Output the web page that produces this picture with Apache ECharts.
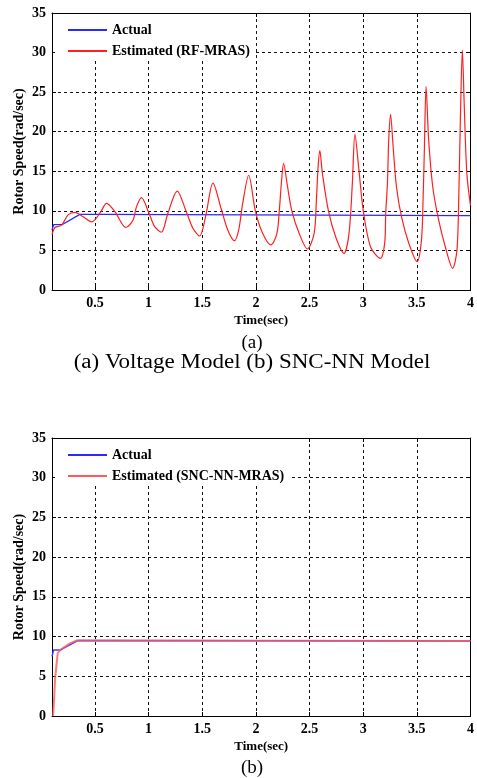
<!DOCTYPE html>
<html>
<head>
<meta charset="utf-8">
<script src="https://cdn.jsdelivr.net/npm/echarts@6/dist/echarts.min.js"></script>
<style>
  html, body { margin: 0; padding: 0; background: #fff; }
  #chart { width: 477px; height: 778px; }
</style>
</head>
<body>
<div id="chart"></div>
<script>
// tick positions
const timeTicks = [0.5, 1, 1.5, 2, 2.5, 3, 3.5, 4];

// (a) voltage model
const actualTimeA = [0.1, 0.115, 0.2, 0.36, 0.55, 0.56, 4.0];
const actualSpeedA = [7.6, 8.25, 8.3, 9.55, 9.55, 9.4, 9.4];
const rfTime = [0.1, 0.128, 0.19, 0.25, 0.314, 0.39, 0.47, 0.546, 0.609, 0.686, 0.788, 0.856, 0.887, 0.934,
  1.004, 1.057, 1.119, 1.18, 1.267, 1.351, 1.413, 1.475, 1.531, 1.6, 1.676, 1.738, 1.8, 1.84, 1.877, 1.933,
  1.995, 2.063, 2.14, 2.196, 2.218, 2.24, 2.258, 2.295, 2.335, 2.403, 2.48, 2.543, 2.564, 2.58, 2.596, 2.62,
  2.676, 2.744, 2.821, 2.868, 2.899, 2.923, 2.96, 3.0, 3.068, 3.16, 3.2, 3.21, 3.226, 3.238, 3.255, 3.279,
  3.31, 3.357, 3.425, 3.502, 3.543, 3.558, 3.57, 3.586, 3.61, 3.648, 3.703, 3.765, 3.833, 3.874, 3.892,
  3.905, 3.924, 3.942, 3.966, 4.0];
const rfSpeed = [7.0, 7.9, 8.2, 9.5, 9.8, 9.26, 8.6, 9.7, 10.95, 9.9, 7.9, 8.85, 10.5, 11.66,
  9.7, 8.0, 7.3, 9.7, 12.5, 9.9, 7.8, 6.82, 9.26, 13.5, 10.3, 7.58, 6.23, 7.6, 10.95, 14.5,
  10.0, 7.16, 5.69, 7.16, 10.0, 13.9, 16.0, 13.05, 10.0, 7.16, 5.18, 7.16, 11.4, 15.6, 17.6, 14.7,
  10.0, 6.7, 4.63, 7.16, 13.5, 19.7, 15.2, 10.1, 5.47, 4.0, 5.9, 9.7, 13.5, 19.0, 22.2, 18.1,
  13.05, 9.26, 5.9, 3.58, 6.3, 11.4, 17.7, 25.7, 19.0, 13.05, 8.85, 5.47, 2.74, 5.05, 12.6,
  21.1, 30.3, 23.2, 14.7, 10.7];

// (b) SNC-NN model
const actualTimeB = [0.1, 0.115, 0.175, 0.34, 4.0];
const actualSpeedB = [7.5, 8.3, 8.3, 9.5, 9.45];
const sncTime = [0.11, 0.119, 0.128, 0.137, 0.153, 0.174, 0.22, 0.267, 0.33, 0.45, 4.0];
const sncSpeed = [0, 2.0, 4.5, 5.8, 7.9, 8.3, 8.7, 9.15, 9.5, 9.5, 9.45];

const zip = (xs, ys) => xs.map((x, i) => [x, ys[i]]);

const serif = '"Liberation Serif", "DejaVu Serif", serif';
const font = { fontFamily: serif, fontWeight: 'bold', fontSize: 14, color: '#000' };
const grids = [
  { left: 52, top: 13, width: 420, height: 277 },
  { left: 52, top: 438, width: 420, height: 278 }
];

function timeAxis(gridIndex, position) {
  const main = position === 'bottom';
  return {
    type: 'value', gridIndex, position, min: 0.1, max: 4,
    axisLine: { show: true, onZero: false, lineStyle: { color: '#000', width: 1 } },
    axisTick: { show: true, inside: true, length: 4, customValues: timeTicks, lineStyle: { color: '#000' } },
    axisLabel: { show: main, customValues: timeTicks, margin: 6, ...font, formatter: v => String(v) },
    splitLine: { show: main, lineStyle: { type: [3, 3], color: '#111', width: 1 } },
    name: main ? 'Time(sec)' : '', nameLocation: 'middle', nameGap: 24,
    nameTextStyle: { ...font, fontSize: 13 }
  };
}

function speedAxis(gridIndex, position) {
  const main = position === 'left';
  return {
    type: 'value', gridIndex, position, min: 0, max: 35, interval: 5,
    axisLine: { show: true, lineStyle: { color: '#000', width: 1 } },
    axisTick: { show: true, inside: true, length: 4, lineStyle: { color: '#000' } },
    axisLabel: { show: main, margin: 6, ...font },
    splitLine: { show: main, lineStyle: { type: [3, 3], color: '#111', width: 1 } },
    name: main ? 'Rotor Speed(rad/sec)' : '', nameLocation: 'middle', nameGap: 26,
    nameMoveOverlap: false,
    nameTextStyle: { ...font, fontSize: 14 }
  };
}

function legend(top, names) {
  return {
    data: names, orient: 'vertical', left: 55, top,
    backgroundColor: '#fff', padding: [9, 6, 2, 13], itemGap: 7,
    itemWidth: 39, itemHeight: 2, icon: 'rect',
    textStyle: { ...font, fontSize: 14 }
  };
}

const chart = echarts.init(document.getElementById('chart'));
chart.setOption({
  animation: false,
  grid: grids,
  xAxis: [timeAxis(0, 'bottom'), timeAxis(0, 'top'), timeAxis(1, 'bottom'), timeAxis(1, 'top')],
  yAxis: [speedAxis(0, 'left'), speedAxis(0, 'right'), speedAxis(1, 'left'), speedAxis(1, 'right')],
  legend: [
    legend(14, ['Actual', 'Estimated (RF-MRAS)']),
    legend(439, ['Actual', 'Estimated (SNC-NN-MRAS)'])
  ],
  series: [
    {
      name: 'Actual', type: 'line', xAxisIndex: 0, yAxisIndex: 0, showSymbol: false,
      data: zip(actualTimeA, actualSpeedA), color: '#2a2aff', lineStyle: { width: 1.3 }
    },
    {
      name: 'Estimated (RF-MRAS)', type: 'line', xAxisIndex: 0, yAxisIndex: 0, showSymbol: false,
      smooth: 0.3,
      data: zip(rfTime, rfSpeed), color: '#ff1f1f', lineStyle: { width: 1.2 }
    },
    {
      name: 'Actual', type: 'line', xAxisIndex: 2, yAxisIndex: 2, showSymbol: false,
      data: zip(actualTimeB, actualSpeedB), color: '#3a3aff', lineStyle: { width: 1.5 }
    },
    {
      name: 'Estimated (SNC-NN-MRAS)', type: 'line', xAxisIndex: 2, yAxisIndex: 2, showSymbol: false,
      data: zip(sncTime, sncSpeed), color: '#ff5a5a', lineStyle: { width: 2, opacity: 0.8 }
    }
  ],
  graphic: [
    { type: 'text', x: 252, y: 343, style: { text: '(a)', font: '19px ' + serif, fill: '#000', align: 'center', verticalAlign: 'middle' } },
    { type: 'text', x: 252, y: 363, scaleX: 1.15, style: { text: '(a) Voltage Model (b) SNC-NN Model', font: '20px ' + serif, fill: '#000', align: 'center', verticalAlign: 'middle' } },
    { type: 'text', x: 252, y: 768, style: { text: '(b)', font: '19px ' + serif, fill: '#000', align: 'center', verticalAlign: 'middle' } }
  ]
});
</script>
</body>
</html>
